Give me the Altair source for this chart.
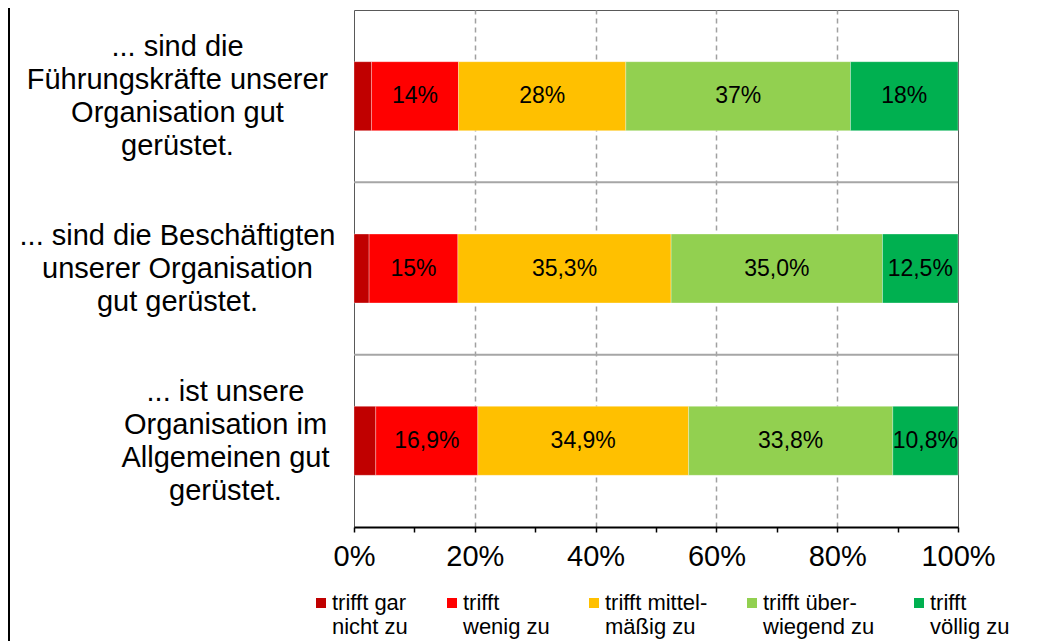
import json
import altair as alt
import pandas as pd

# ---- data ----
row_lines = [
    ["... sind die", "Führungskräfte unserer", "Organisation gut", "gerüstet."],
    ["... sind die Beschäftigten", "unserer Organisation", "gut gerüstet."],
    ["... ist unsere", "Organisation im", "Allgemeinen gut", "gerüstet."],
]
series_lines = [
    ["trifft gar", "nicht zu"],
    ["trifft", "wenig zu"],
    ["trifft mittel-", "mäßig zu"],
    ["trifft über-", "wiegend zu"],
    ["trifft", "völlig zu"],
]
colors = ["#C00000", "#FF0000", "#FFC000", "#92D050", "#00B050"]

gar_nicht_zu = [2.9, 2.5, 3.6]
wenig_zu = [14.4, 14.7, 16.9]
mittelmaessig_zu = [27.7, 35.3, 34.9]
ueberwiegend_zu = [37.2, 35.0, 33.8]
voellig_zu = [17.8, 12.5, 10.8]

label_gar_nicht = ["", "", ""]
label_wenig = ["14%", "15%", "16,9%"]
label_mittel = ["28%", "35,3%", "34,9%"]
label_ueber = ["37%", "35,0%", "33,8%"]
label_voellig = ["18%", "12,5%", "10,8%"]

x_ticks = [round(i * 0.05, 2) for i in range(21)]
row_centers = [0.5, 1.5, 2.5]
separators = [1, 2]

# ---- table ----
series_names = ["|".join(l) for l in series_lines]
values = [gar_nicht_zu, wenig_zu, mittelmaessig_zu, ueberwiegend_zu, voellig_zu]
labels = [label_gar_nicht, label_wenig, label_mittel, label_ueber, label_voellig]
recs = []
for r in range(len(row_lines)):
    cum = 0.0
    for s in range(len(series_names)):
        v = values[s][r] / 100.0
        recs.append({
            "row": r, "series": series_names[s], "order": s,
            "start": cum, "end": cum + v, "mid": cum + v / 2,
            "ylo": r + 0.3, "yhi": r + 0.7, "ymid": r + 0.5,
            "label": labels[s][r],
        })
        cum += v
df = pd.DataFrame(recs)
sep_df = pd.DataFrame({"sep": separators})

FONT = "Liberation Sans"
W, H = 604, 517
LINE_H = 33

row_expr = "split([" + ",".join(json.dumps("|".join(l), ensure_ascii=False) for l in row_lines) + "][floor(datum.value)], '|')"
# vertical centring of multi-line labels (first line is drawn at the anchor)
counts = [len(l) for l in row_lines]
offset_conditions = []
for i, n in enumerate(counts[:-1]):
    offset_conditions.append({"test": f"floor(datum.value) === {i}", "value": -(n - 1) * LINE_H / 2})
y_label_offset = {"condition": offset_conditions, "value": -(counts[-1] - 1) * LINE_H / 2}

x_scale = alt.Scale(domain=[0, 1], nice=False, zero=False)
y_scale = alt.Scale(domain=[0, 3], reverse=True, nice=False, zero=False)

x_axis = alt.Axis(
    values=x_ticks, title=None,
    labelExpr="round(datum.value*100) % 20 === 0 ? format(datum.value, '.0%') : ''",
    labelFontSize=29, labelFont=FONT, labelColor="black", labelFlush=False,
    labelOverlap=False, labelPadding=10,
    domainColor="black", domainWidth=2,
    tickColor="black", tickSize=5, tickWidth=1.5,
    grid=True, gridColor="#a0a0a0", gridDash=[5, 4], gridWidth=1.5,
    gridOpacity={"condition": {"test": "round(datum.value*100) % 20 === 0 && datum.value > 0.01 && datum.value < 0.99", "value": 1}, "value": 0},
)
y_axis = alt.Axis(
    values=row_centers, title=None, labelExpr=row_expr,
    domain=False, ticks=False, grid=False,
    labelAlign="center", labelBaseline="middle",
    labelFontSize=29, labelLineHeight=LINE_H, labelFont=FONT, labelColor="black",
    labelLimit=0, labelOverlap=False,
    labelOffset=y_label_offset,
    labelPadding={"condition": {"test": "datum.value > 2", "value": 129}, "value": 177},
)

bars = alt.Chart(df).mark_bar(stroke="white", strokeWidth=0.6, strokeOpacity=0.5).encode(
    x=alt.X("start:Q", scale=x_scale, axis=x_axis),
    x2="end:Q",
    y=alt.Y("ylo:Q", scale=y_scale, axis=y_axis),
    y2="yhi:Q",
    color=alt.Color(
        "series:N",
        scale=alt.Scale(domain=series_names, range=colors),
        legend=alt.Legend(
            orient="none", legendX=-44, legendY=582, direction="horizontal",
            columns=5, title=None, symbolType="square", symbolSize=100,
            symbolStrokeWidth=0, labelFontSize=22, padding=0,
            labelFont=FONT, labelColor="black", labelLimit=0,
            labelExpr="split(datum.label, '|')", labelBaseline="middle",
            columnPadding=33, labelOffset=0,
        ),
    ),
    order=alt.Order("order:Q"),
)

texts = alt.Chart(df).mark_text(fontSize=23, font=FONT, color="black").encode(
    x=alt.X("mid:Q", scale=x_scale),
    y=alt.Y("ymid:Q", scale=y_scale),
    text="label:N",
)

seps = alt.Chart(sep_df).mark_rule(color="#a6a6a6", strokeWidth=2).encode(
    y=alt.Y("sep:Q", scale=y_scale),
)

border = alt.Chart(sep_df).mark_rule(color="black", strokeWidth=2).encode(
    x=alt.value(-345), y=alt.value(-2), y2=alt.value(640),
)

chart = alt.layer(seps, bars, texts, border).properties(
    width=W, height=H,
    autosize="none",
    padding={"left": 346, "top": 2, "right": 74, "bottom": 114},
).configure_view(stroke="#595959", strokeWidth=1)

chart.save("out.html", embed_options={"renderer": "svg", "actions": False})
